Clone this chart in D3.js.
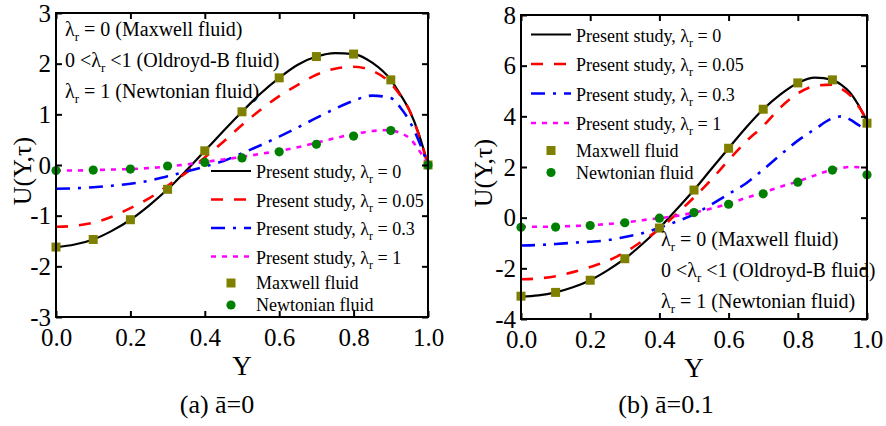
<!DOCTYPE html>
<html>
<head>
<meta charset="utf-8">
<script src="https://cdn.jsdelivr.net/npm/d3@7"></script>
<style>
body{margin:0;background:#fff;}
</style>
</head>
<body>
<script>
const yGrid = [0,0.05,0.1,0.15,0.2,0.25,0.3,0.35,0.4,0.45,0.5,0.55,0.6,0.65,0.7,0.75,0.8,0.85,0.9,0.925,0.95,0.975,1.0];
// Y positions of the symbols
const yMarks = [0,0.1,0.2,0.3,0.4,0.5,0.6,0.7,0.8,0.9,1.0];

// (a) a = 0
const a_lam0   = [-1.62,-1.57,-1.47,-1.30,-1.08,-0.80,-0.48,-0.11,0.28,0.67,1.05,1.41,1.72,1.98,2.14,2.21,2.19,2.02,1.68,1.40,1.08,0.62,0];
const a_lam005 = [-1.22,-1.20,-1.14,-1.02,-0.85,-0.66,-0.41,-0.15,0.15,0.46,0.79,1.09,1.36,1.58,1.78,1.90,1.94,1.86,1.61,1.38,1.08,0.60,0];
const a_lam03  = [-0.47,-0.46,-0.44,-0.41,-0.37,-0.31,-0.22,-0.13,-0.03,0.08,0.23,0.39,0.56,0.74,0.93,1.11,1.27,1.37,1.32,1.14,0.87,0.48,0];
const a_lam1   = [-0.11,-0.11,-0.10,-0.09,-0.08,-0.06,-0.03,0.01,0.06,0.11,0.16,0.22,0.28,0.35,0.44,0.53,0.61,0.67,0.69,0.63,0.53,0.30,0];
const a_maxwell = [-1.62,-1.47,-1.08,-0.48,0.28,1.05,1.72,2.14,2.19,1.68,0.0];
const a_newton  = [-0.11,-0.10,-0.08,-0.02,0.05,0.14,0.26,0.41,0.57,0.68,0.0];

// (b) a = 0.1
const b_lam0   = [-3.12,-3.07,-2.95,-2.75,-2.47,-2.08,-1.62,-1.05,-0.41,0.33,1.09,1.92,2.74,3.55,4.28,4.87,5.32,5.53,5.44,5.25,4.95,4.45,3.80];
const b_lam005 = [-2.43,-2.40,-2.31,-2.15,-1.95,-1.71,-1.37,-0.93,-0.45,0.15,0.80,1.50,2.27,3.00,3.62,4.35,4.90,5.20,5.25,5.10,4.85,4.41,3.85];
const b_lam03  = [-1.10,-1.08,-1.04,-0.99,-0.95,-0.89,-0.76,-0.62,-0.40,-0.15,0.13,0.52,0.93,1.35,1.90,2.48,3.04,3.50,3.92,4.00,3.88,3.66,3.45];
const b_lam1   = [-0.36,-0.36,-0.35,-0.33,-0.30,-0.25,-0.19,-0.10,-0.02,0.07,0.20,0.36,0.55,0.78,1.00,1.22,1.43,1.67,1.90,1.96,2.00,1.99,1.96];
const b_maxwell = [-3.10,-2.95,-2.47,-1.62,-0.41,1.09,2.74,4.28,5.32,5.44,3.73];
const b_newton  = [-0.38,-0.37,-0.31,-0.20,-0.02,0.20,0.53,0.94,1.40,1.88,1.69];

const xTicks = [0,0.2,0.4,0.6,0.8,1.0];
const xTickLabels = ["0.0","0.2","0.4","0.6","0.8","1.0"];
const a_yTicks = [-3,-2,-1,0,1,2,3];
const a_yTickLabels = ["-3","-2","-1","0","1","2","3"];
const b_yTicks = [-4,-2,0,2,4,6,8];
const b_yTickLabels = ["-4","-2","0","2","4","6","8"];

const lamValues = ["0","0.05","0.3","1"];

var FONT = "'Liberation Serif','Times New Roman',serif";
var width = 886, height = 426;
var svg = d3.select("body").append("svg")
  .attr("width", width).attr("height", height)
  .attr("font-family", FONT);

var styles = [
  {color:"#000000", dash:null, w:2.2},
  {color:"#ff0000", dash:"12,11", w:2.6},
  {color:"#0000ff", dash:"14,8,3,8", w:2.6},
  {color:"#ff00ff", dash:"5,6", w:2.6}
];
var squareColor = "#808000", circleColor = "#008000";

// text with lambda_r subscript
function lamText(g, x, y, size, before, after){
  var t = g.append("text").attr("x", x).attr("y", y).style("font-size", size+"px");
  t.append("tspan").text(before + "\u03bb");
  t.append("tspan").text("r").style("font-size", Math.round(size*0.65)+"px").attr("dy", 5);
  t.append("tspan").text(after).attr("dy", -5);
  return t;
}

function panel(p){
  var x = d3.scaleLinear().domain([0,1]).range([p.left, p.right]);
  var y = d3.scaleLinear().domain([p.yTicks[0], p.yTicks[p.yTicks.length-1]]).range([p.bottom, p.top]);
  var g = svg.append("g");

  var line = d3.line().x(function(d){return x(d[0]);}).y(function(d){return y(d[1]);}).curve(d3.curveMonotoneX);
  p.curves.forEach(function(c, i){
    g.append("path").datum(yGrid.map(function(v,j){return [v, c[j]];}))
      .attr("d", line).attr("fill","none")
      .attr("stroke", styles[i].color).attr("stroke-width", styles[i].w)
      .attr("stroke-dasharray", styles[i].dash);
  });

  g.selectAll(".sq").data(p.squares).enter().append("rect")
    .attr("x", function(d,i){return x(yMarks[i])-4.5;})
    .attr("y", function(d){return y(d)-4.5;})
    .attr("width", 9).attr("height", 9).attr("fill", squareColor);
  g.selectAll(".ci").data(p.circles).enter().append("circle")
    .attr("cx", function(d,i){return x(yMarks[i]);})
    .attr("cy", function(d){return y(d);})
    .attr("r", 4.6).attr("fill", circleColor);

  // axes, ticks inward
  var bottom = g.append("g").attr("transform","translate(0,"+p.bottom+")")
    .call(d3.axisBottom(x).tickValues(xTicks).tickSize(-6).tickPadding(11)
      .tickFormat(function(d,i){return xTickLabels[i];}));
  var top = g.append("g").attr("transform","translate(0,"+p.top+")")
    .call(d3.axisTop(x).tickValues(xTicks).tickSize(-6).tickFormat(""));
  var left = g.append("g").attr("transform","translate("+p.left+",0)")
    .call(d3.axisLeft(y).tickValues(p.yTicks).tickSize(-6).tickPadding(5)
      .tickFormat(function(d,i){return p.yTickLabels[i];}));
  var right = g.append("g").attr("transform","translate("+p.right+",0)")
    .call(d3.axisRight(y).tickValues(p.yTicks).tickSize(-6).tickFormat(""));
  [bottom, top, left, right].forEach(function(a){
    a.attr("font-family", FONT);
    a.select(".domain").remove();
    a.selectAll(".tick line").attr("stroke","#000").attr("stroke-width",2);
    a.selectAll("text").style("font-size","25px").attr("fill","#000");
  });
  g.append("rect").attr("x", p.left).attr("y", p.top)
    .attr("width", p.right-p.left).attr("height", p.bottom-p.top)
    .attr("fill","none").attr("stroke","#000").attr("stroke-width",2);

  // axis titles
  g.append("text").attr("x", (p.left+p.right)/2).attr("y", p.bottom+58)
    .attr("text-anchor","middle").style("font-size","27px").text("Y");
  g.append("text").attr("transform","translate("+p.ylabX+","+((p.top+p.bottom)/2+6)+") rotate(-90)")
    .attr("text-anchor","middle").attr("dy","0.35em").style("font-size","26px").text("U(Y,\u03c4)");
  g.append("text").attr("x", p.capX).attr("y", 413)
    .attr("text-anchor","middle").style("font-size","26px").text(p.caption);

  // legend
  var L = p.legend;
  p.curves.forEach(function(c, i){
    var ly = L.y + i*L.dy;
    g.append("line").attr("x1", L.x).attr("x2", L.x+40).attr("y1", ly).attr("y2", ly)
      .attr("stroke", styles[i].color).attr("stroke-width", styles[i].w)
      .attr("stroke-dasharray", styles[i].dash);
    lamText(g, L.x+45, ly+7, 18, "Present study, ", " = " + lamValues[i]);
  });
  var sy = L.y + 4*L.dy - 2;
  g.append("rect").attr("x", L.x+20-4.5).attr("y", sy-4.5).attr("width",9).attr("height",9).attr("fill", squareColor);
  g.append("text").attr("x", L.x+45).attr("y", sy+6).style("font-size","18px").text("Maxwell fluid");
  var cy = sy + 22;
  g.append("circle").attr("cx", L.x+20).attr("cy", cy).attr("r",4.6).attr("fill", circleColor);
  g.append("text").attr("x", L.x+45).attr("y", cy+6).style("font-size","18px").text("Newtonian fluid");

  // notes
  var N = p.note;
  lamText(g, N.x, N.y, 20, "", " = 0 (Maxwell fluid)");
  lamText(g, N.x, N.y+N.dy, 20, "0 <", " <1 (Oldroyd-B fluid)");
  lamText(g, N.x, N.y+2*N.dy, 20, "", " = 1 (Newtonian fluid)");
}

panel({left:56, right:428, top:13, bottom:317,
  yTicks:a_yTicks, yTickLabels:a_yTickLabels,
  curves:[a_lam0,a_lam005,a_lam03,a_lam1], squares:a_maxwell, circles:a_newton,
  legend:{x:211, y:171, dy:28.5}, note:{x:65, y:36, dy:31},
  ylabX:22, capX:217, caption:"(a) \u0101=0"});

panel({left:521, right:867, top:15, bottom:319,
  yTicks:b_yTicks, yTickLabels:b_yTickLabels,
  curves:[b_lam0,b_lam005,b_lam03,b_lam1], squares:b_maxwell, circles:b_newton,
  legend:{x:531, y:34.5, dy:29.5}, note:{x:661, y:246, dy:31},
  ylabX:483, capX:666, caption:"(b) \u0101=0.1"});

svg.selectAll("text").style("font-family", FONT);
</script>
</body>
</html>
